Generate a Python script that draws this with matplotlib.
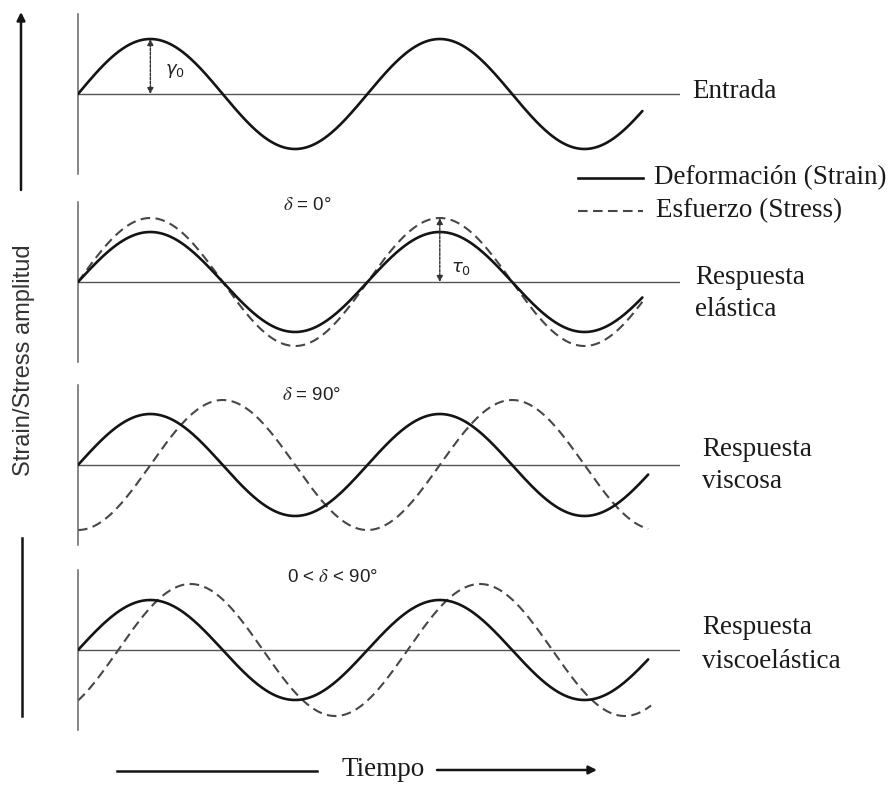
import numpy as np
import matplotlib
matplotlib.use("Agg")
import matplotlib.pyplot as plt

# ======================== Data ========================
# time in cycles of the input signal, amplitudes in units of the strain amplitude
panel_names = [["Entrada"], ["Respuesta", "elástica"], ["Respuesta", "viscosa"],
               ["Respuesta", "viscoelástica"]]
delta_labels = [None, "$\\delta$ = 0°", "$\\delta$ = 90°", "0 < $\\delta$ < 90°"]
strain_amp = [1.1, 1.0, 1.02, 1.0]
strain_end = [1.95, 1.95, 1.97, 1.97]
stress_amp = [None, 1.28, 1.3, 1.32]
stress_delta = [None, 0, 90, 50]        # phase lag in degrees
stress_end = [None, 1.95, 1.97, 1.98]
baseline_end = 2.08

# ======================== Figure ========================
W, H = 895, 786
fig = plt.figure(figsize=(W / 100, H / 100), dpi=100, facecolor="white")

def fx(x):
    return x / W

def fy(y):
    return 1 - y / H

serif = "Liberation Serif"
sans = "Liberation Sans"
plt.rcParams["mathtext.fontset"] = "stix"

# layout in pixels: baseline y of each panel, axis left edge
centers = [94, 282, 465, 650]
left_px, right_px, half_h = 78, 680, 80
ylim = 1.6

# label positions (pixels) for right-hand text lines and delta text
name_pos = [[(692, 92)], [(695, 278), (695, 309)], [(702, 449), (702, 482)],
            [(702, 628), (702, 661)]]
delta_pos = [None, (307, 205), (312, 395), (333, 578)]

axes = []
for i, c in enumerate(centers):
    ax = fig.add_axes([fx(left_px), fy(c + half_h), fx(right_px) - fx(left_px), 2 * half_h / H])
    ax.set_xlim(0, baseline_end)
    ax.set_ylim(-ylim, ylim)
    ax.set_xticks([]), ax.set_yticks([])
    for s in ["top", "right", "bottom"]:
        ax.spines[s].set_visible(False)
    ax.spines["left"].set_color("#666666")
    ax.spines["left"].set_linewidth(1.1)
    ax.patch.set_alpha(0)
    ax.axhline(0, color="#555555", lw=1.0, zorder=1)

    # strain
    t = np.linspace(0, strain_end[i], 500)
    ax.plot(t, strain_amp[i] * np.sin(2 * np.pi * t), color="#141414", lw=1.9,
            solid_capstyle="round", zorder=3)

    # stress
    if stress_amp[i] is not None:
        ts = np.linspace(0, stress_end[i], 500)
        ax.plot(ts, stress_amp[i] * np.sin(2 * np.pi * ts - np.deg2rad(stress_delta[i])),
                color="#474747", lw=1.5, dashes=(4.6, 2.6), zorder=2)

    if delta_labels[i] is not None:
        fig.text(fx(delta_pos[i][0]), fy(delta_pos[i][1]), delta_labels[i], ha="center",
                 va="center", fontsize=13.5, family=sans, color="#222222")

    for line, (px, py) in zip(panel_names[i], name_pos[i]):
        fig.text(fx(px), fy(py), line, ha="left", va="center", fontsize=19.5,
                 family=serif, color="#1a1a1a")
    axes.append(ax)

# amplitude arrows
ap = dict(arrowstyle="<|-|>", color="#333333", lw=1.0, ls=(0, (2, 1)),
          mutation_scale=9, shrinkA=0, shrinkB=0)
axes[0].annotate("", xy=(0.25, strain_amp[0]), xytext=(0.25, 0), arrowprops=ap)
axes[0].text(0.30, 0.45, "$\\gamma_0$", fontsize=13, color="#222222", va="center",
             math_fontfamily="dejavusans")
axes[1].annotate("", xy=(1.25, stress_amp[1]), xytext=(1.25, 0), arrowprops=ap)
axes[1].text(1.29, 0.28, "$\\tau_0$", fontsize=13, color="#222222", va="center",
             math_fontfamily="dejavusans")

# legend
fig.add_artist(plt.Line2D([fx(578), fx(643)], [fy(178), fy(178)], color="#141414", lw=1.9))
fig.add_artist(plt.Line2D([fx(578), fx(643)], [fy(211), fy(211)], color="#474747", lw=1.5,
                          dashes=(4.6, 2.6)))
fig.text(fx(654), fy(178), "Deformación (Strain)", ha="left", va="center", fontsize=19.5,
         family=serif, color="#1a1a1a")
fig.text(fx(656), fy(211), "Esfuerzo (Stress)", ha="left", va="center", fontsize=19.5,
         family=serif, color="#1a1a1a")

# y label with arrow and line
fig.text(fx(24), fy(360), "Strain/Stress amplitud", rotation=90, ha="center", va="center",
         fontsize=17, family=sans, color="#333333")
fig.add_artist(matplotlib.patches.FancyArrowPatch((fx(21), fy(190)), (fx(21), fy(12)),
               transform=fig.transFigure, arrowstyle="-|>", mutation_scale=12,
               color="#141414", lw=1.8, shrinkA=0, shrinkB=0))
fig.add_artist(plt.Line2D([fx(22), fx(22)], [fy(538), fy(716)], color="#141414", lw=1.8))

# time axis label with arrow
fig.text(fx(383), fy(769), "Tiempo", ha="center", va="center", fontsize=19.5,
         family=serif, color="#1a1a1a")
fig.add_artist(plt.Line2D([fx(117), fx(317)], [fy(771), fy(771)], color="#141414", lw=1.8))
fig.add_artist(matplotlib.patches.FancyArrowPatch((fx(437), fy(770)), (fx(597), fy(770)),
               transform=fig.transFigure, arrowstyle="-|>", mutation_scale=12,
               color="#141414", lw=1.8, shrinkA=0, shrinkB=0))

fig.savefig("out.png", dpi=100, facecolor="white")
